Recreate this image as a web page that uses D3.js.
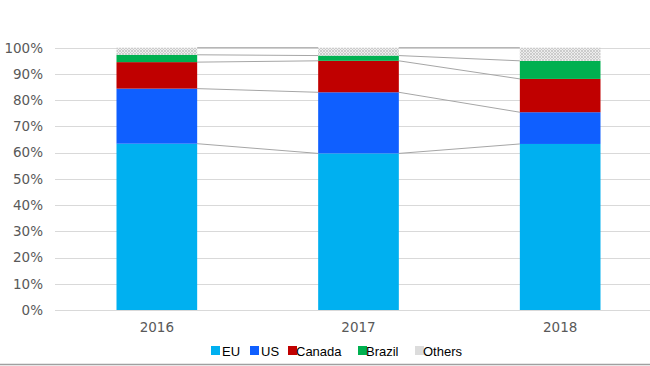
<!DOCTYPE html>
<html><head><meta charset="utf-8">
<script src="https://cdn.jsdelivr.net/npm/d3@7"></script>
<style>body{margin:0;background:#fff}svg{display:block}</style>
</head><body>
<script>
const years = ["2016","2017","2018"];
const seriesNames = ["EU","US","Canada","Brazil","Others"];
const EU = [63.4, 59.7, 63.3];
const US = [21.0, 23.3, 12.1];
const Canada = [10.1, 12.0, 12.7];
const Brazil = [2.8, 2.0, 6.9];
const Others = [2.7, 3.0, 5.0];
const yTicks = [0,10,20,30,40,50,60,70,80,90,100];
const colors = {EU:"#00B0F0", US:"#0F5FFF", Canada:"#C00000", Brazil:"#00B050", Others:"url(#hatch)"};

const W=650,H=366;
const svg=d3.select("body").append("svg").attr("width",W).attr("height",H);
const defs=svg.append("defs");
const pat=defs.append("pattern").attr("id","hatch").attr("patternUnits","userSpaceOnUse").attr("width",3).attr("height",3);
pat.append("rect").attr("width",3).attr("height",3).attr("fill","#ededed");
pat.append("path").attr("d","M0,0L3,3M3,0L0,3").attr("stroke","#c4c4c4").attr("stroke-width",0.8);

const x=d3.scaleBand().domain(years).range([56,661]).paddingInner(0.6).paddingOuter(0.3);
const y=d3.scaleLinear().domain([0,100]).range([310,47.7]);

// gridlines
svg.append("g").selectAll("line").data(yTicks).join("line")
  .attr("x1",55).attr("x2",W).attr("y1",d=>Math.round(y(d))+0.5).attr("y2",d=>Math.round(y(d))+0.5)
  .attr("stroke","#d9d9d9").attr("stroke-width",1);

// y labels
const yAxis=d3.axisLeft(y).tickValues(yTicks).tickFormat(d=>d+"%").tickSize(0).tickPadding(0);
const ga=svg.append("g").attr("transform","translate(43,0)").call(yAxis);
ga.select(".domain").remove();
ga.selectAll("text").attr("font-family","DejaVu Sans, sans-serif").attr("font-size","13.5px").attr("fill","#595959");

// x labels
const xAxis=d3.axisBottom(x).tickSize(0).tickPadding(0);
const gx=svg.append("g").attr("transform","translate(0,322)").call(xAxis);
gx.select(".domain").remove();
gx.selectAll("text").attr("font-family","DejaVu Sans, sans-serif").attr("font-size","13.5px").attr("fill","#595959");

// stacking
const data=years.map((yr,i)=>({year:yr,EU:EU[i],US:US[i],Canada:Canada[i],Brazil:Brazil[i],Others:Others[i]}));
const stack=d3.stack().keys(seriesNames)(data);

// series lines
const bw=x.bandwidth();
const lines=[];
stack.forEach(s=>{
  for(let j=0;j<years.length-1;j++){
    lines.push({x1:x(years[j])+bw,y1:y(s[j][1]),x2:x(years[j+1]),y2:y(s[j+1][1])});
  }
});
svg.append("g").selectAll("line").data(lines).join("line")
  .attr("x1",d=>d.x1).attr("y1",d=>d.y1).attr("x2",d=>d.x2).attr("y2",d=>d.y2)
  .attr("stroke","#a6a6a6").attr("stroke-width",1);

// bars
svg.append("g").selectAll("g").data(stack).join("g")
  .attr("fill",d=>colors[d.key])
  .selectAll("rect").data(d=>d).join("rect")
  .attr("x",d=>x(d.data.year)).attr("width",bw)
  .attr("y",d=>y(d[1])).attr("height",d=>y(d[0])-y(d[1]));

// legend
const legX=[211,250,288,358,415];
const lg=svg.append("g").selectAll("g").data(seriesNames).join("g")
  .attr("transform",(d,i)=>`translate(${legX[i]},346)`);
lg.append("rect").attr("width",9).attr("height",9).attr("fill",d=>d==="Others"?"#dcdcdc":colors[d]);
lg.append("text").attr("x",d=>d==="Canada"||d==="Others"||d==="Brazil"?8:11).attr("y",9.5)
  .attr("font-family","Liberation Sans, Arial, sans-serif").attr("font-size","13px").attr("fill","#000").text(d=>d);

// bottom border
svg.append("line").attr("x1",0).attr("x2",W).attr("y1",364.5).attr("y2",364.5).attr("stroke","#a0a0a0").attr("stroke-width",1.5);
</script>
</body></html>
